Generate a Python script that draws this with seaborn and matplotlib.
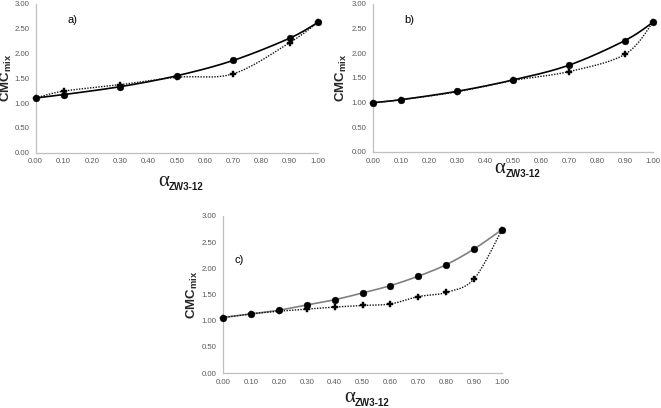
import numpy as np
import pandas as pd
import matplotlib
matplotlib.use("Agg")
import matplotlib.pyplot as plt
import seaborn as sns

# ---- data ----
alpha_ab = [0.0, 0.1, 0.3, 0.5, 0.7, 0.9, 1.0]
a_exp = [1.10, 1.17, 1.33, 1.55, 1.86, 2.31, 2.63]
a_ideal = [1.10, 1.24, 1.37, 1.52, 1.59, 2.22, 2.63]
b_exp = [1.00, 1.06, 1.23, 1.46, 1.76, 2.26, 2.63]
b_ideal = [1.00, 1.06, 1.22, 1.45, 1.63, 1.98, 2.63]
alpha_c = [0.0, 0.1, 0.2, 0.3, 0.4, 0.5, 0.6, 0.7, 0.8, 0.9, 1.0]
c_exp = [1.06, 1.13, 1.20, 1.30, 1.40, 1.53, 1.67, 1.85, 2.07, 2.37, 2.74]
c_ideal = [1.06, 1.13, 1.18, 1.22, 1.26, 1.29, 1.32, 1.46, 1.54, 1.80, 2.74]
xticks = [0.0, 0.1, 0.2, 0.3, 0.4, 0.5, 0.6, 0.7, 0.8, 0.9, 1.0]
yticks = [0.0, 0.5, 1.0, 1.5, 2.0, 2.5, 3.0]
panel_labels = ["a)", "b)", "c)"]
xlabel_main = "α"
xlabel_sub = "ZW3-12"

plt.rcParams["mathtext.fontset"] = "custom"
plt.rcParams["mathtext.rm"] = "Liberation Sans"
plt.rcParams["mathtext.bf"] = "Liberation Sans:bold"
sns.set_style("white")
plt.rcParams["font.family"] = ["Liberation Sans", "DejaVu Sans"]


def smooth(x, y, n=30):
    """Excel-style smoothed line (Bezier / Catmull-Rom) through the points."""
    P = np.column_stack([x, y]).astype(float)
    P_ext = np.vstack([P[0], P, P[-1]])
    t = np.linspace(0, 1, n)[:, None]
    out = []
    for i in range(len(P) - 1):
        p0, p1, p2, p3 = P_ext[i], P_ext[i + 1], P_ext[i + 2], P_ext[i + 3]
        c1 = p1 + (p2 - p0) / 6.0
        c2 = p2 - (p3 - p1) / 6.0
        seg = ((1 - t) ** 3) * p1 + 3 * ((1 - t) ** 2) * t * c1 + 3 * (1 - t) * t ** 2 * c2 + t ** 3 * p2
        out.append(seg if i == 0 else seg[1:])
    S = np.vstack(out)
    return S[:, 0], S[:, 1]


W, H = 661, 408
fig = plt.figure(figsize=(W / 100, H / 100), dpi=100)


def make_ax(l, r, t, b):
    return fig.add_axes([l / W, 1 - b / H, (r - l) / W, (b - t) / H])


# (axes, x, exp, ideal, line colour, label y, label x, xlabel drop px, ylabel x)
panels = [
    (make_ax(35.5, 318, 4, 152.5), alpha_ab, a_exp, a_ideal, "black", 2.68, 0.115, 33, -0.075),
    (make_ax(373, 653, 4, 152), alpha_ab, b_exp, b_ideal, "black", 2.68, 0.11, 21, -0.084),
    (make_ax(223, 502, 216, 373), alpha_c, c_exp, c_ideal, "#808080", 2.16, 0.04, 29, -0.082),
]

for k, (ax, xs, ye, yi, lc, ly, lx, drop, ylx) in enumerate(panels):
    sx, sy = smooth(xs, ye)
    sns.lineplot(x=sx, y=sy, ax=ax, color=lc, lw=1.2, sort=False, estimator=None, clip_on=False)
    ix, iy = smooth(xs, yi)
    sns.lineplot(x=ix, y=iy, ax=ax, color="#111111", lw=1.0, linestyle=(0, (1, 1)), sort=False,
                 estimator=None, clip_on=False)
    sns.scatterplot(x=xs, y=yi, ax=ax, marker="P", s=16, color="black", edgecolor="black",
                    linewidth=0.3, zorder=5, clip_on=False)
    sns.scatterplot(x=xs, y=ye, ax=ax, marker="o", s=24, color="black", edgecolor="black",
                    linewidth=0.3, zorder=6, clip_on=False)
    ax.set_xlim(0, 1)
    ax.set_ylim(0, 3)
    ax.set_xticks(xticks)
    ax.set_xticklabels([f"{v:.2f}" for v in xticks])
    ax.set_yticks(yticks)
    ax.set_yticklabels([f"{v:.2f}" for v in yticks])
    ax.tick_params(axis="both", labelsize=5.6, labelcolor="#595959", length=2, width=0.6,
                   color="#bfbfbf")
    ax.tick_params(axis="x", direction="in", pad=4)
    ax.tick_params(axis="y", direction="out", pad=2.5)
    for s in ["top", "right"]:
        ax.spines[s].set_visible(False)
    for s in ["left", "bottom"]:
        ax.spines[s].set_color("#bfbfbf")
        ax.spines[s].set_linewidth(0.9)
    ax.set_xlabel("")
    ax.set_ylabel(r"$\mathbf{CMC_{mix}}$", fontsize=9.5)
    ax.yaxis.set_label_coords(ylx, 0.5)
    # x label: large alpha + bold subscript
    ax.annotate(xlabel_main, xy=(0.5, 0), xycoords="axes fraction",
                xytext=(-5.5, -drop * 0.72), textcoords="offset points",
                ha="right", va="baseline", fontsize=15, family="Liberation Serif", color="#1a1a1a")
    ax.annotate(xlabel_sub, xy=(0.5, 0), xycoords="axes fraction",
                xytext=(-5.5, -(drop + 4) * 0.72), textcoords="offset points",
                ha="left", va="baseline", fontsize=7, fontweight="bold", color="#1a1a1a")
    ax.text(lx, ly, panel_labels[k], fontsize=8, color="black", va="center", ha="left")
    ax.set_facecolor("white")

fig.savefig("out.png", dpi=100, facecolor="white")
